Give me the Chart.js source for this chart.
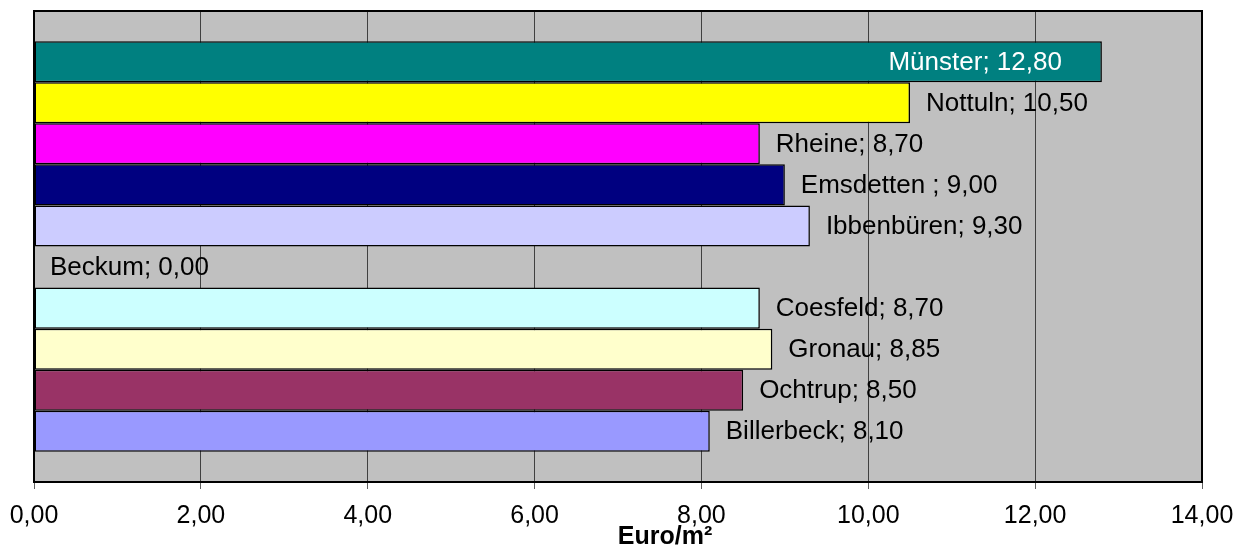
<!DOCTYPE html>
<html>
<head>
<meta charset="utf-8">
<script src="https://cdn.jsdelivr.net/npm/chart.js@4/dist/chart.umd.min.js"></script>
<style>
  html, body { margin: 0; padding: 0; background: #ffffff; }
  #wrap { width: 1243px; height: 547px; position: relative; }
</style>
</head>
<body>
<div id="wrap"><canvas id="c"></canvas></div>
<script>
// ---- data ----
const cities = ['Münster', 'Nottuln', 'Rheine', 'Emsdetten ', 'Ibbenbüren', 'Beckum', 'Coesfeld', 'Gronau', 'Ochtrup', 'Billerbeck'];
const prices = [12.80, 10.50, 8.70, 9.00, 9.30, 0.00, 8.70, 8.85, 8.50, 8.10];
const barColors = ['#008080', '#FFFF00', '#FF00FF', '#000080', '#CCCCFF', '#C0C0C0', '#CCFFFF', '#FFFFCC', '#993366', '#9999FF'];
const xMin = 0, xMax = 14, xStep = 2;
const axisTitle = 'Euro/m²';

const fmt = v => Number(v).toFixed(2).replace('.', ',');
const FONT = '"Liberation Sans", Arial, sans-serif';

const datasets = cities.map((c, i) => ({
  label: c,
  data: [prices[i]],
  backgroundColor: barColors[i],
  borderColor: '#000000',
  borderWidth: 1.5,
  borderSkipped: false,
  barPercentage: 1.0,
  categoryPercentage: 0.872
}));

const plotPlugin = {
  id: 'plotDecor',
  beforeDraw(chart) {
    const a = chart.chartArea, ctx = chart.ctx;
    ctx.save();
    ctx.fillStyle = '#C0C0C0';
    ctx.fillRect(a.left, a.top, a.right - a.left, a.bottom - a.top);
    ctx.restore();
  },
  afterDatasetsDraw(chart) {
    const ctx = chart.ctx, a = chart.chartArea;
    ctx.save();
    ctx.font = '26px ' + FONT;
    ctx.textBaseline = 'middle';
    chart.data.datasets.forEach((ds, i) => {
      const el = chart.getDatasetMeta(i).data[0];
      const text = ds.label + '; ' + fmt(ds.data[0]);
      const w = ctx.measureText(text).width;
      const gap = 16;
      if (el.x + gap + w > a.right) {
        ctx.fillStyle = '#FFFFFF';
        ctx.textAlign = 'right';
        ctx.fillText(text, el.x - 40, el.y + 1);
      } else {
        ctx.fillStyle = '#000000';
        ctx.textAlign = 'left';
        ctx.fillText(text, el.x + gap, el.y + 1);
      }
    });
    ctx.restore();
  },
  afterDraw(chart) {
    const a = chart.chartArea, ctx = chart.ctx;
    ctx.save();
    ctx.strokeStyle = '#000000';
    ctx.lineWidth = 2;
    ctx.strokeRect(a.left, a.top, a.right - a.left, a.bottom - a.top);
    ctx.fillStyle = '#000000';
    ctx.font = 'bold 25px ' + FONT;
    ctx.textAlign = 'center';
    ctx.textBaseline = 'alphabetic';
    ctx.fillText(axisTitle, (a.left + a.right) / 2 + 47, 544);
    ctx.restore();
  }
};

new Chart(document.getElementById('c'), {
  type: 'bar',
  data: { labels: [''], datasets },
  plugins: [plotPlugin],
  options: {
    indexAxis: 'y',
    responsive: true,
    maintainAspectRatio: false,
    animation: false,
    layout: { padding: { left: 34, right: 41, top: 11, bottom: 4 } },
    plugins: { legend: { display: false }, tooltip: { enabled: false } },
    scales: {
      x: {
        min: xMin, max: xMax,
        afterFit(scale) { scale.paddingLeft = 0; scale.paddingRight = 0; },
        ticks: {
          stepSize: xStep,
          callback: v => fmt(v),
          color: '#000000',
          padding: 12,
          font: { family: FONT, size: 25 },
          maxRotation: 0
        },
        grid: { color: '#404040', lineWidth: 1, tickLength: 7, tickColor: '#606060', drawTicks: true },
        border: { display: false }
      },
      y: { display: false }
    }
  }
});
</script>
</body>
</html>
